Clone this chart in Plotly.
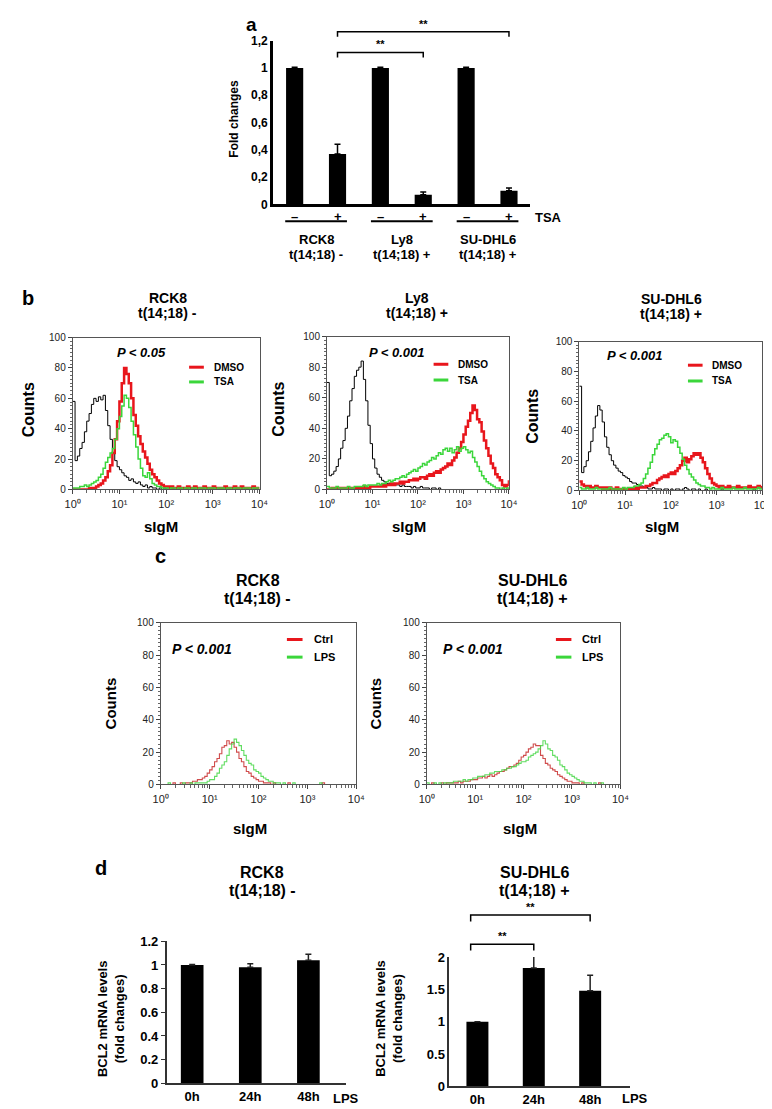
import plotly.graph_objects as go

W, H = 772, 1109
FONT = "Liberation Sans, Arial, sans-serif"

# ------------------------------------------------------------------ data
# panel a : fold changes after TSA
A_CATEGORIES = ["RCK8 -", "RCK8 +", "Ly8 -", "Ly8 +", "SU-DHL6 -", "SU-DHL6 +"]
A_TSA = ["–", "+", "–", "+", "–", "+"]
A_FOLD = [1.0, 0.37, 1.0, 0.07, 1.0, 0.10]
A_FOLD_ERR = [0.005, 0.07, 0.005, 0.02, 0.005, 0.02]
A_GROUPS = ["RCK8", "Ly8", "SU-DHL6"]
A_GROUP_STATUS = ["t(14;18) -", "t(14;18) +", "t(14;18) +"]
A_YTICKS = [0, 0.2, 0.4, 0.6, 0.8, 1.0, 1.2]
A_YTICKTEXT = ["0", "0,2", "0,4", "0,6", "0,8", "1", "1,2"]
A_SIG = [(1, 3, "**"), (1, 5, "**")]

# flow-cytometry histograms: log10(sIgM) channel bins
BIN_LOG = [0.00, 0.05, 0.10, 0.15, 0.20, 0.25, 0.30, 0.35, 0.40, 0.45,
           0.50, 0.55, 0.60, 0.65, 0.70, 0.75, 0.80, 0.85, 0.90, 0.95,
           1.00, 1.05, 1.10, 1.15, 1.20, 1.25, 1.30, 1.35, 1.40, 1.45,
           1.50, 1.55, 1.60, 1.65, 1.70, 1.75, 1.80, 1.85, 1.90, 1.95,
           2.00, 2.05, 2.10, 2.15, 2.20, 2.25, 2.30, 2.35, 2.40, 2.45,
           2.50, 2.55, 2.60, 2.65, 2.70, 2.75, 2.80, 2.85, 2.90, 2.95,
           3.00, 3.05, 3.10, 3.15, 3.20, 3.25, 3.30, 3.35, 3.40, 3.45,
           3.50, 3.55, 3.60, 3.65, 3.70, 3.75, 3.80, 3.85, 3.90, 3.95,
           4.00]

B1_ISO = [58, 19, 22, 27, 31, 38, 45, 50, 56, 60,
          58, 61, 59, 62, 52, 42, 33, 24, 19, 15,
          13, 11, 9, 8, 6, 7, 5, 4, 5, 3,
          2, 3, 1, 2, 1, 1, 0, 1, 0, 1,
          0, 0, 1, 0, 0, 1, 0, 0, 0, 1,
          0, 0, 0, 0, 1, 0, 0, 0, 0, 0,
          0, 1, 0, 0, 0, 0, 0, 1, 0, 0,
          0, 0, 0, 0, 0, 1, 0, 0, 0, 0,
          0]
B1_DMSO = [0, 0, 0, 0, 0, 0, 0, 1, 1, 1,
           2, 3, 4, 6, 8, 12, 16, 24, 33, 45,
           58, 70, 80, 76, 70, 60, 49, 42, 35, 30,
           25, 21, 17, 13, 10, 8, 6, 4, 3, 2,
           2, 1, 2, 1, 1, 2, 1, 1, 1, 2,
           1, 1, 2, 1, 1, 1, 2, 1, 1, 1,
           2, 1, 1, 1, 1, 2, 1, 1, 1, 2,
           1, 1, 2, 1, 1, 1, 1, 2, 1, 1,
           1]
B1_TSA = [1, 1, 1, 2, 2, 3, 2, 3, 4, 5,
          6, 8, 10, 14, 18, 21, 24, 27, 33, 40,
          48, 55, 62, 60, 54, 45, 36, 28, 20, 14,
          9, 8, 11, 7, 4, 3, 2, 2, 1, 1,
          1, 0, 1, 1, 0, 1, 1, 0, 1, 1,
          0, 1, 1, 0, 1, 1, 1, 0, 1, 1,
          1, 0, 1, 1, 1, 0, 1, 1, 0, 1,
          1, 1, 0, 1, 1, 1, 0, 1, 1, 1,
          1]

B2_ISO = [70, 9, 10, 12, 15, 20, 27, 32, 40, 48,
          58, 66, 74, 78, 80, 84, 72, 58, 42, 30,
          20, 14, 10, 8, 6, 5, 4, 4, 3, 4,
          3, 3, 2, 3, 2, 2, 2, 1, 2, 1,
          1, 2, 1, 1, 1, 0, 1, 1, 0, 1,
          0, 0, 0, 0, 0, 0, 0, 0, 0, 0,
          0, 0, 0, 0, 0, 0, 0, 0, 0, 0,
          0, 0, 0, 0, 0, 0, 0, 0, 0, 0,
          0]
B2_DMSO = [0, 0, 1, 0, 1, 1, 0, 1, 1, 1,
           0, 1, 1, 1, 1, 1, 2, 1, 1, 2,
           2, 2, 2, 2, 3, 2, 3, 3, 4, 3,
           4, 4, 5, 4, 5, 5, 6, 6, 7, 6,
           7, 8, 8, 7, 9, 10, 9, 11, 12, 11,
           13, 14, 15, 17, 16, 19, 21, 24, 27, 31,
           36, 41, 45, 50, 55, 52, 46, 44, 38, 32,
           27, 22, 17, 14, 10, 8, 6, 3, 2, 3,
           6]
B2_TSA = [2, 1, 1, 1, 2, 1, 1, 1, 1, 2,
          1, 1, 2, 2, 2, 2, 3, 2, 3, 3,
          3, 3, 4, 3, 4, 4, 5, 6, 5, 6,
          7, 7, 8, 9, 8, 10, 11, 12, 13, 12,
          14, 15, 17, 16, 18, 19, 21, 20, 22, 24,
          23, 26, 27, 25, 27, 24, 26, 28, 25, 27,
          28, 26, 24, 25, 21, 18, 15, 12, 9, 7,
          5, 4, 3, 2, 1, 1, 0, 1, 0, 1,
          0]

B3_ISO = [70, 12, 16, 20, 26, 33, 42, 50, 57, 54,
          46, 36, 29, 24, 20, 17, 15, 13, 12, 10,
          9, 8, 6, 5, 5, 4, 3, 3, 2, 2,
          1, 1, 2, 1, 1, 1, 0, 1, 1, 0,
          1, 0, 1, 1, 0, 1, 2, 1, 0, 1,
          1, 0, 1, 0, 0, 1, 0, 0, 0, 0,
          0, 0, 1, 0, 0, 0, 0, 0, 0, 0,
          0, 0, 0, 0, 0, 0, 1, 0, 0, 0,
          0]
B3_DMSO = [6, 4, 3, 2, 3, 2, 2, 3, 2, 2,
           1, 2, 1, 2, 1, 1, 2, 1, 1, 1,
           1, 1, 1, 1, 2, 1, 2, 2, 2, 3,
           3, 4, 5, 5, 7, 8, 9, 10, 9, 11,
           12, 11, 13, 15, 17, 20, 22, 19, 21, 23,
           25, 24, 25, 22, 19, 15, 11, 8, 5, 4,
           3, 2, 3, 2, 2, 3, 2, 2, 2, 3,
           2, 2, 2, 2, 3, 2, 2, 2, 3, 2,
           3]
B3_TSA = [2, 1, 1, 2, 1, 1, 1, 2, 1, 1,
          1, 1, 1, 2, 1, 1, 1, 1, 1, 2,
          1, 2, 2, 2, 3, 3, 4, 5, 8, 11,
          15, 19, 24, 28, 31, 34, 35, 37, 38, 36,
          32, 34, 33, 29, 25, 21, 17, 14, 11, 9,
          7, 5, 4, 3, 3, 2, 2, 1, 2, 1,
          1, 1, 2, 1, 1, 1, 1, 2, 1, 1,
          1, 1, 2, 1, 1, 1, 1, 1, 2, 1,
          1]

C1_CTRL = [0, 0, 0, 0, 0, 1, 0, 0, 1, 0,
           1, 1, 1, 2, 2, 3, 3, 4, 5, 7,
           9, 11, 14, 16, 19, 23, 24, 27, 25, 26,
           23, 20, 16, 14, 11, 8, 7, 5, 4, 3,
           2, 2, 1, 1, 1, 0, 1, 0, 0, 0,
           0, 0, 1, 0, 0, 0, 0, 0, 0, 0,
           0, 0, 0, 0, 0, 0, 1, 0, 0, 0,
           0, 0, 0, 0, 0, 0, 0, 0, 0, 0,
           0]
C1_LPS = [0, 0, 0, 1, 0, 0, 0, 0, 0, 1,
          0, 0, 1, 0, 1, 1, 1, 1, 1, 2,
          3, 3, 5, 7, 10, 12, 14, 18, 22, 25,
          28, 26, 24, 21, 18, 15, 13, 12, 9, 8,
          7, 5, 4, 3, 2, 2, 1, 1, 1, 0,
          1, 0, 0, 0, 1, 0, 0, 0, 0, 0,
          0, 0, 0, 0, 0, 1, 0, 0, 0, 0,
          0, 0, 0, 0, 0, 0, 0, 0, 0, 0,
          0]
C2_CTRL = [0, 0, 1, 0, 0, 0, 1, 0, 1, 1,
           1, 1, 1, 2, 1, 2, 2, 2, 3, 3,
           3, 4, 4, 5, 4, 5, 6, 5, 6, 7,
           8, 8, 9, 10, 11, 11, 12, 13, 15, 17,
           18, 20, 22, 23, 25, 24, 24, 18, 16, 13,
           12, 10, 9, 8, 6, 5, 4, 3, 2, 2,
           1, 1, 1, 0, 1, 0, 0, 0, 0, 0,
           0, 1, 0, 0, 0, 0, 0, 0, 0, 0,
           0]
C2_LPS = [1, 0, 0, 1, 0, 1, 0, 1, 1, 1,
          1, 2, 2, 2, 2, 3, 2, 3, 3, 4,
          4, 5, 5, 5, 6, 6, 7, 7, 8, 8,
          8, 9, 9, 10, 10, 11, 11, 12, 13, 14,
          14, 15, 17, 18, 19, 20, 22, 24, 27, 25,
          22, 21, 18, 17, 15, 12, 11, 9, 7, 6,
          5, 4, 3, 2, 2, 1, 1, 1, 0, 1,
          0, 0, 1, 0, 0, 0, 0, 0, 0, 0,
          0]

HIST_XTICKS = [1, 10, 100, 1000, 10000]
HIST_XTICKTEXT = ["10⁰", "10¹", "10²", "10³", "10⁴"]
HIST_XMINOR = [m * d for d in (1, 10, 100, 1000) for m in range(2, 10)]
HIST_YTICKS = [0, 20, 40, 60, 80, 100]

# panel d : BCL2 mRNA after LPS
D_TIMES = ["0h", "24h", "48h"]
D1_FOLD = [1.0, 0.98, 1.04]
D1_ERR = [0.005, 0.03, 0.05]
D2_FOLD = [1.0, 1.83, 1.48]
D2_ERR = [0.0, 0.23, 0.24]
D1_YTICKS = [0, 0.2, 0.4, 0.6, 0.8, 1.0, 1.2]
D1_YTICKTEXT = ["0", "0.2", "0.4", "0.6", "0.8", "1", "1.2"]
D2_YTICKS = [0, 0.5, 1.0, 1.5, 2.0]
D2_YTICKTEXT = ["0", "0.5", "1", "1.5", "2"]
D2_SIG = [(0, 1, "**"), (0, 2, "**")]

assert all(len(s) == len(BIN_LOG) for s in
           [B1_ISO, B1_DMSO, B1_TSA, B2_ISO, B2_DMSO, B2_TSA, B3_ISO, B3_DMSO, B3_TSA,
            C1_CTRL, C1_LPS, C2_CTRL, C2_LPS])

SIGM_CHANNEL = [10 ** v for v in BIN_LOG]

RED = "#e8161c"
GREEN = "#3bd63b"
C_RED = "rgba(200,45,45,0.85)"
C_GREEN = "rgba(70,215,70,0.85)"

# ------------------------------------------------------------------ helpers
fig = go.Figure()
annotations = []
shapes = []
layout = dict(width=W, height=H, autosize=False, margin=dict(l=0, r=0, t=0, b=0),
              paper_bgcolor="white", plot_bgcolor="rgba(0,0,0,0)", showlegend=False,
              font=dict(family=FONT, color="black", size=12))


def px(x):
    return x / W


def py(y):
    return 1 - y / H


def note(txt, x, y, size, xref="paper", yref="paper", bold=True, italic=False,
         angle=0, xanchor="center", yanchor="middle"):
    if xref == "paper":
        x = px(x)
    if yref == "paper":
        y = py(y)
    if italic:
        txt = "<i>" + txt + "</i>"
    annotations.append(dict(text=txt, x=x, y=y, xref=xref, yref=yref, showarrow=False,
                            xanchor=xanchor, yanchor=yanchor, textangle=angle,
                            font=dict(family=FONT, size=size, color="black",
                                      weight="bold" if bold else "normal")))


# ------------------------------------------------------------------ panel a
A_L, A_R, A_TOP, A_BOT = 263, 526, 26, 192
A_X = list(range(len(A_CATEGORIES)))
A_XR = [-0.5, len(A_CATEGORIES) - 0.5]
fig.add_trace(go.Bar(x=A_X, y=A_FOLD, width=0.4, hovertext=A_CATEGORIES,
                     marker=dict(color="black", line=dict(width=0)),
                     error_y=dict(type="data", symmetric=False, array=A_FOLD_ERR,
                                  arrayminus=[0] * len(A_FOLD), color="black",
                                  thickness=1.5, width=3),
                     xaxis="x", yaxis="y"))
layout["xaxis"] = dict(domain=[px(A_L), px(A_R)], anchor="y", range=A_XR,
                       showline=True, linecolor="black", linewidth=3,
                       showticklabels=False, ticks="", showgrid=False, zeroline=False)
layout["yaxis"] = dict(domain=[py(A_BOT), py(A_TOP)], anchor="x", range=[0, 1.2],
                       showline=True, linecolor="black", linewidth=3, ticks="",
                       tickvals=A_YTICKS, ticktext=A_YTICKTEXT,
                       tickfont=dict(size=12, weight="bold", family=FONT),
                       showgrid=False, zeroline=False)
layout["yaxis9"] = dict(domain=[py(A_BOT), 1], anchor="x",
                        range=[0, 1.2 * A_BOT / (A_BOT - A_TOP)], visible=False)
for (i0, i1, lab), lev in zip(A_SIG, [1.113, 1.265]):
    fig.add_trace(go.Scatter(x=[i0, i0, i1, i1], y=[lev - 0.036, lev, lev, lev - 0.036],
                             mode="lines", line=dict(color="black", width=1.5),
                             xaxis="x", yaxis="y9", hoverinfo="skip"))
    note(lab, (i0 + i1) / 2, lev + 0.06, 11, xref="x", yref="y9")

A_SPAN = A_BOT - A_TOP
for i, s in enumerate(A_TSA):
    note(s, i, (A_BOT - 204) / A_SPAN, 13, xref="x", yref="y domain")
note("TSA", (545 - A_L) / (A_R - A_L), (A_BOT - 205) / A_SPAN, 13,
     xref="x domain", yref="y domain")


def a_frac(v):
    return (v - A_XR[0]) / (A_XR[1] - A_XR[0])


for g, (name, status) in enumerate(zip(A_GROUPS, A_GROUP_STATUS)):
    shapes.append(dict(type="line", xref="x domain", yref="y domain",
                       x0=a_frac(2 * g - 0.22), x1=a_frac(2 * g + 1.22),
                       y0=(A_BOT - 209) / A_SPAN, y1=(A_BOT - 209) / A_SPAN,
                       line=dict(color="black", width=2)))
    note(name, 2 * g + 0.5, (A_BOT - 228) / A_SPAN, 13, xref="x", yref="y domain")
    note(status, 2 * g + 0.5, (A_BOT - 243) / A_SPAN, 13, xref="x", yref="y domain")

note("Fold changes", 222, 105, 12, angle=-90)
note("a", 241, 10, 19)

# ------------------------------------------------------------------ histograms


def hist_panel(n, box, titles, title_y, curves, legend_labels, p_text, p_pos,
               leg, counts_pos, sigm_pos, title_size, counts_size, p_size, leg_size):
    x0, x1, top, bot = box
    for series, color, width in curves:
        fig.add_trace(go.Scatter(x=SIGM_CHANNEL, y=series, mode="lines",
                                 line=dict(color=color, width=width, shape="hv"),
                                 xaxis="x%d" % n, yaxis="y%d" % n, hoverinfo="skip"))
    layout["xaxis%d" % n] = dict(
        domain=[px(x0), px(x1)], anchor="y%d" % n, type="log", range=[0, 4],
        showline=True, mirror=True, linecolor="#555", linewidth=1,
        ticks="outside", ticklen=4, tickcolor="#444",
        tickvals=HIST_XTICKS, ticktext=HIST_XTICKTEXT,
        tickfont=dict(size=11, color="#222", family=FONT),
        minor=dict(tickvals=HIST_XMINOR, ticks="outside", ticklen=2.5, tickcolor="#666"),
        showgrid=False, zeroline=False)
    layout["yaxis%d" % n] = dict(
        domain=[py(bot), py(top)], anchor="x%d" % n, range=[0, 100],
        showline=True, mirror=True, linecolor="#555", linewidth=1,
        ticks="outside", ticklen=4, tickcolor="#444", tickvals=HIST_YTICKS,
        tickfont=dict(size=10, color="#222", family=FONT),
        minor=dict(dtick=2.5, ticks="outside", ticklen=2, tickcolor="#666"),
        showgrid=False, zeroline=False)
    note(titles[0], titles[2], title_y[0], title_size)
    note(titles[1], titles[2], title_y[1], title_size)
    note("Counts", counts_pos[0], counts_pos[1], counts_size, angle=-90)
    note("sIgM", sigm_pos[0], sigm_pos[1], 15)
    xr, yr = "x%d domain" % n, "y%d domain" % n
    note("P < " + p_text, p_pos[0], p_pos[1], p_size, xref=xr, yref=yr, italic=True)
    lx0, lx1, tx, ly = leg
    for (lab, color), yy in zip(legend_labels, ly):
        shapes.append(dict(type="line", xref=xr, yref=yr, x0=lx0, x1=lx1, y0=yy, y1=yy,
                           line=dict(color=color, width=3)))
        note(lab, tx, yy, leg_size, xref=xr, yref=yr, xanchor="left")


hist_panel(2, (58, 249, 327, 481), ("RCK8", "t(14;18) -", 155), (287, 302),
           [(B1_ISO, "black", 1), (B1_DMSO, RED, 2.5), (B1_TSA, GREEN, 1.5)],
           [("DMSO", RED), ("TSA", GREEN)], "0.05", (0.366, 0.90),
           (0.623, 0.702, 0.743, (0.805, 0.708)), (13, 400), (148, 519), 14, 16, 13, 10)
hist_panel(3, (318, 504, 326, 481), ("Ly8", "t(14;18) +", 410), (287, 302),
           [(B2_ISO, "black", 1), (B2_DMSO, RED, 2.5), (B2_TSA, GREEN, 1.5)],
           [("DMSO", RED), ("TSA", GREEN)], "0.001", (0.387, 0.897),
           (0.586, 0.667, 0.710, (0.819, 0.716)), (268, 400), (402, 519), 14, 16, 13, 10)
hist_panel(4, (576, 763, 331, 482), ("SU-DHL6", "t(14;18) +", 670), (288, 303),
           [(B3_ISO, "black", 1), (B3_DMSO, RED, 2.5), (B3_TSA, GREEN, 1.5)],
           [("DMSO", RED), ("TSA", GREEN)], "0.001", (0.305, 0.907),
           (0.594, 0.674, 0.717, (0.841, 0.735)), (528, 407), (661, 519), 14, 16, 13, 10)
note("b", 12, 287, 20)

hist_panel(5, (148, 348, 616, 780), ("RCK8", "t(14;18) -", 247), (573, 592),
           [(C1_CTRL, C_RED, 1.1), (C1_LPS, C_GREEN, 1.1)],
           [("Ctrl", RED), ("LPS", GREEN)], "0.001", (0.21, 0.835),
           (0.645, 0.725, 0.775, (0.896, 0.787)), (97, 698), (239, 825), 16, 15, 14, 11)
hist_panel(6, (420, 618, 616, 780), ("SU-DHL6", "t(14;18) +", 528), (573, 592),
           [(C2_CTRL, C_RED, 1.1), (C2_LPS, C_GREEN, 1.1)],
           [("Ctrl", RED), ("LPS", GREEN)], "0.001", (0.237, 0.835),
           (0.667, 0.747, 0.793, (0.896, 0.787)), (368, 698), (515, 825), 16, 15, 14, 11)
note("c", 148, 548, 20)

# ------------------------------------------------------------------ panel d


def d_panel(n, box, xr, yr, vals, errs, yt, ytt, title_x, ylabel_x, lps_frac, yticks):
    x0, x1, top, bot = box
    fig.add_trace(go.Bar(x=list(range(len(D_TIMES))), y=vals, width=0.39,
                         hovertext=D_TIMES, marker=dict(color="black", line=dict(width=0)),
                         error_y=dict(type="data", symmetric=False, array=errs,
                                      arrayminus=[0] * len(vals), color="#222",
                                      thickness=1.5, width=3),
                         xaxis="x%d" % n, yaxis="y%d" % n))
    layout["xaxis%d" % n] = dict(domain=[px(x0), px(x1)], anchor="y%d" % n, range=xr,
                                 showline=True, linecolor="#333", linewidth=1.5,
                                 ticks="", tickvals=list(range(len(D_TIMES))),
                                 ticktext=D_TIMES,
                                 tickfont=dict(size=13, weight="bold", family=FONT),
                                 showgrid=False, zeroline=False)
    layout["yaxis%d" % n] = dict(domain=[py(bot), py(top)], anchor="x%d" % n, range=yr,
                                 showline=True, linecolor="#333", linewidth=1.5,
                                 ticks=yticks, ticklen=4, tickcolor="#333",
                                 tickvals=yt, ticktext=ytt,
                                 tickfont=dict(size=13, weight="bold", family=FONT),
                                 showgrid=False, zeroline=False)
    note("RCK8" if n == 7 else "SU-DHL6", title_x, 869, 16)
    note("t(14;18) -" if n == 7 else "t(14;18) +", title_x, 888, 16)
    note("BCL2 mRNA levels<br>(fold changes)", ylabel_x, 1017, 13, angle=-90)
    note("LPS", lps_frac, -(1098 - bot) / (bot - top), 13,
         xref="x%d domain" % n, yref="y%d domain" % n)


d_panel(7, (154, 337, 939, 1083), [-0.44, 2.64], [0, 1.2], D1_FOLD, D1_ERR,
        D1_YTICKS, D1_YTICKTEXT, 252, 97, 1.0, "outside")
d_panel(8, (443, 628, 955, 1086), [-0.5, 2.71], [0, 2.0], D2_FOLD, D2_ERR,
        D2_YTICKS, D2_YTICKTEXT, 530, 382, 1.027, "")
D2_BOT, D2_TOP = 1086, 955
layout["yaxis10"] = dict(domain=[py(D2_BOT), py(895)], anchor="x8",
                         range=[0, 2.0 * (D2_BOT - 895) / (D2_BOT - D2_TOP)], visible=False)
for (i0, i1, lab), lev in zip(D2_SIG, [2.2, 2.65]):
    fig.add_trace(go.Scatter(x=[i0 - 0.12, i0 - 0.12, i1, i1],
                             y=[lev - 0.1, lev, lev, lev - 0.1],
                             mode="lines", line=dict(color="black", width=1.5),
                             xaxis="x8", yaxis="y10", hoverinfo="skip"))
    note(lab, (i0 - 0.12 + i1) / 2, lev + 0.13, 11, xref="x8", yref="y10")
note("d", 87, 865, 20)

layout["annotations"] = annotations
layout["shapes"] = shapes
fig.update_layout(**layout)
fig.write_html("out.html")
